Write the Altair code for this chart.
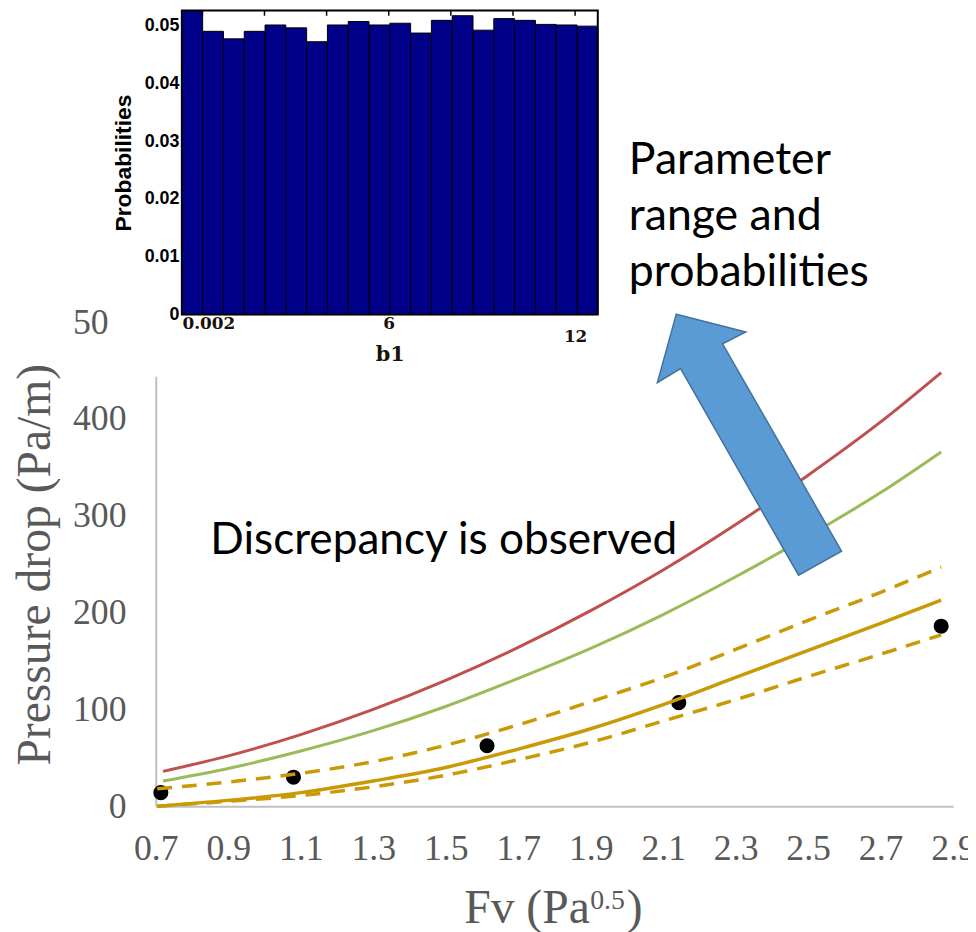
import altair as alt
import pandas as pd

# ---------------- main chart values ----------------
fv_model = [0.72, 0.9, 1.1, 1.3, 1.5, 1.7, 1.9, 2.1, 2.3, 2.5, 2.7, 2.867]
dp_red = [36, 52, 74, 100, 130, 164, 202, 244, 291, 342, 397, 448]
dp_green = [26, 39, 57, 78, 103, 132, 163, 198, 237, 279, 324, 366]

fv_gold = [0.704, 0.9, 1.1, 1.3, 1.5, 1.7, 1.9, 2.1, 2.3, 2.5, 2.7, 2.867]
dp_gold = [0, 6, 14, 26, 40, 59, 80, 105, 133, 161, 189, 213]
dp_gold_upper = [18, 25, 34, 46, 63, 84, 108, 133, 162, 192, 221, 247]
dp_gold_lower = [0, 5, 11, 20, 32, 48, 66, 88, 110, 134, 157, 177]

fv_exp = [0.714, 1.08, 1.614, 2.143, 2.867]
dp_exp = [14, 30, 62.5, 107, 186]

x_ticks = [0.7, 0.9, 1.1, 1.3, 1.5, 1.7, 1.9, 2.1, 2.3, 2.5, 2.7, 2.9]
y_ticks = [0, 100, 200, 300, 400, 500]

# ---------------- inset histogram values ----------------
prob = [0.0535, 0.0490, 0.0477, 0.0490, 0.0501, 0.0496, 0.0472, 0.0501, 0.0507, 0.0501,
        0.0504, 0.0487, 0.0509, 0.0517, 0.0492, 0.0512, 0.0509, 0.0502, 0.0501, 0.0499]
b1_min, b1_max = -0.66, 12.73
b1_label_values = [0.002, 6, 12]
b1_tick_values = [0, 2, 4, 6, 8, 10, 12]
prob_ticks = [0, 0.01, 0.02, 0.03, 0.04, 0.05]
prob_top = 0.0526

# ---------------- annotations ----------------
discrepancy_text = "Discrepancy is observed"
parameter_text = ["Parameter", "range and", "probabilities"]
arrow_fv = [2.334]
arrow_dp = [380]
ARROW_PATH = ("M-0.482,-0.835L-0.015,-0.715L-0.171,-0.635L0.629,0.758"
              "L0.34,0.92L-0.453,-0.469L-0.609,-0.375Z")

GRAY = "#595959"
SERIF = "Liberation Serif"

# ---------------- main encodings ----------------
X_MAIN = alt.X(
    "fv:Q",
    scale=alt.Scale(domain=[0.7, 2.9], nice=False, zero=False),
    axis=alt.Axis(values=x_ticks, format=".1f", title=None, grid=False, ticks=False, tickSize=0,
                  labelFont=SERIF, labelFontSize=36, labelColor=GRAY, labelPadding=26,
                  labelFlush=False, labelOverlap=False, domainColor="#BFBFBF", domainWidth=2,
                  zindex=0),
)
Y_MAIN = alt.Y(
    "dp:Q",
    scale=alt.Scale(domain=[0, 500], nice=False),
    axis=alt.Axis(values=y_ticks, title="Pressure drop (Pa/m)", grid=False, ticks=False, tickSize=0,
                  labelFont=SERIF, labelFontSize=36, labelColor=GRAY, labelPadding=30,
                  labelOverlap=False, domainColor="#BFBFBF", domainWidth=2,
                  titleFont=SERIF, titleFontSize=48, titleFontWeight="normal", titleColor=GRAY,
                  titlePadding=13, zindex=0),
)

df_exp = pd.DataFrame({"fv": fv_exp, "dp": dp_exp})
df_red = pd.DataFrame({"fv": fv_model, "dp": dp_red})
df_green = pd.DataFrame({"fv": fv_model, "dp": dp_green})
df_gold = pd.DataFrame({"fv": fv_gold, "dp": dp_gold})
df_gold_up = pd.DataFrame({"fv": fv_gold, "dp": dp_gold_upper})
df_gold_lo = pd.DataFrame({"fv": fv_gold, "dp": dp_gold_lower})
df_arrow = pd.DataFrame({"fv": arrow_fv, "dp": arrow_dp})
one = alt.Data(values=[{"k": 1}])

points = alt.Chart(df_exp).mark_circle(size=230, color="black", opacity=1).encode(x=X_MAIN, y=Y_MAIN)


def curve(df, color, dash=None, width=3):
    kw = dict(color=color, strokeWidth=width, interpolate="monotone")
    if dash:
        kw["strokeDash"] = dash
    return alt.Chart(df).mark_line(**kw).encode(x=X_MAIN, y=Y_MAIN)


red = curve(df_red, "#C0504D")
green = curve(df_green, "#9BBB59")
gold = curve(df_gold, "#C99A06", width=3.5)
gold_up = curve(df_gold_up, "#C99A06", dash=[15, 10], width=3.5)
gold_lo = curve(df_gold_lo, "#C99A06", dash=[15, 10], width=3.5)

arrow = alt.Chart(df_arrow).mark_point(
    shape=ARROW_PATH, size=90000, filled=True, fill="#5B9BD5", stroke="#41719C",
    strokeWidth=1.5, opacity=1
).encode(x=X_MAIN, y=Y_MAIN)

disc = alt.Chart(one).mark_text(
    text=discrepancy_text, font="Lato", fontSize=44.5, align="left", baseline="alphabetic", color="black"
).encode(x=alt.value(55), y=alt.value(234))

param = alt.Chart(one).mark_text(
    text=parameter_text, font="Lato", fontSize=45, align="left", baseline="alphabetic",
    color="black", lineHeight=56
).encode(x=alt.value(477), y=alt.value(-149))

xt_main = alt.Chart(one).mark_text(
    text="Fv (Pa", font=SERIF, fontSize=48, align="left", baseline="alphabetic", color=GRAY
).encode(x=alt.value(311), y=alt.value(606))
xt_sup = alt.Chart(one).mark_text(
    text="0.5", font=SERIF, fontSize=28, align="left", baseline="alphabetic", color=GRAY
).encode(x=alt.value(438), y=alt.value(592))
xt_close = alt.Chart(one).mark_text(
    text=")", font=SERIF, fontSize=48, align="left", baseline="alphabetic", color=GRAY
).encode(x=alt.value(475), y=alt.value(606))

main = alt.layer(points, red, green, gold, gold_up, gold_lo, arrow, disc, param,
                 xt_main, xt_sup, xt_close)

# ---------------- inset ----------------
nb = len(prob)
bw = (b1_max - b1_min) / nb
df_bars = pd.DataFrame({
    "lo": [b1_min + i * bw for i in range(nb)],
    "hi": [b1_min + (i + 1) * bw for i in range(nb)],
    "p": prob,
    "zero": [0.0] * nb,
})
df_frame = pd.DataFrame({"lo": [b1_min], "hi": [b1_max], "p": [prob_top], "zero": [0.0]})
df_ticks = pd.DataFrame({"lo": b1_tick_values, "p": [prob_top] * len(b1_tick_values),
                         "zero": [prob_top - 0.0009] * len(b1_tick_values)})

X_IN = alt.X(
    "lo:Q",
    scale=alt.Scale(domain=[b1_min, b1_max], range=[26.3, 445.7], nice=False, zero=False),
    axis=alt.Axis(orient="bottom", offset=-496, values=b1_label_values,
                  labelExpr="datum.value < 1 ? '0.002' : format(datum.value, 'd')",
                  grid=False, ticks=False, domain=False,
                  labelFont="DejaVu Serif", labelFontWeight="bold", labelFontSize=17,
                  labelColor="#1a1208", labelFlush=False, labelOverlap=False,
                  labelOffset={"condition": {"test": "datum.value < 1", "value": 6}, "value": 0},
                  labelPadding={"condition": {"test": "datum.value == 12", "value": 14}, "value": 1},
                  title="b1", titleFont="DejaVu Serif", titleFontWeight="bold", titleFontSize=21,
                  titleColor="#1a1208", titleY=30, titleBaseline="top", zindex=1),
)
Y_IN = alt.Y(
    "p:Q",
    scale=alt.Scale(domain=[0, prob_top], range=[-7.7, -314.3], nice=False, clamp=True),
    axis=alt.Axis(orient="left", offset=-26.3, values=prob_ticks,
                  labelExpr="datum.value == 0 ? '0' : format(datum.value, '.2f')",
                  grid=False, ticks=False, domain=False,
                  labelFont="Liberation Sans", labelFontWeight="bold", labelFontSize=18,
                  labelColor="black", labelPadding=3, labelOverlap=False,
                  title="Probabilities", titleFont="Liberation Sans", titleFontWeight="bold",
                  titleFontSize=23, titleColor="black", titlePadding=9, zindex=1),
)

backdrop = alt.Chart(one).mark_rect(color="white").encode(
    x=alt.value(-48), x2=alt.value(455), y=alt.value(-313), y2=alt.value(55)
)
bars = alt.Chart(df_bars).mark_rect(color="#000088", stroke="black", strokeWidth=1).encode(
    x=X_IN, x2="hi:Q", y=Y_IN, y2="zero:Q"
)
frame = alt.Chart(df_frame).mark_rect(fillOpacity=0, stroke="black", strokeWidth=2).encode(
    x=X_IN, x2="hi:Q", y=Y_IN, y2="zero:Q"
)
ticks = alt.Chart(df_ticks).mark_rule(color="black", strokeWidth=1.5).encode(
    x=X_IN, y=Y_IN, y2="zero:Q"
)

inset = alt.layer(backdrop, bars, frame, ticks)

chart = (
    alt.layer(main, inset)
    .resolve_scale(x="independent", y="independent")
    .properties(
        width=804, height=488,
        autosize=alt.AutoSizeParams(type="none"),
        padding={"left": 149, "top": 313, "right": 15, "bottom": 123},
        background="white",
    )
    .configure_view(stroke=None)
)

chart.save("out.html", embed_options={"renderer": "svg", "actions": False})
